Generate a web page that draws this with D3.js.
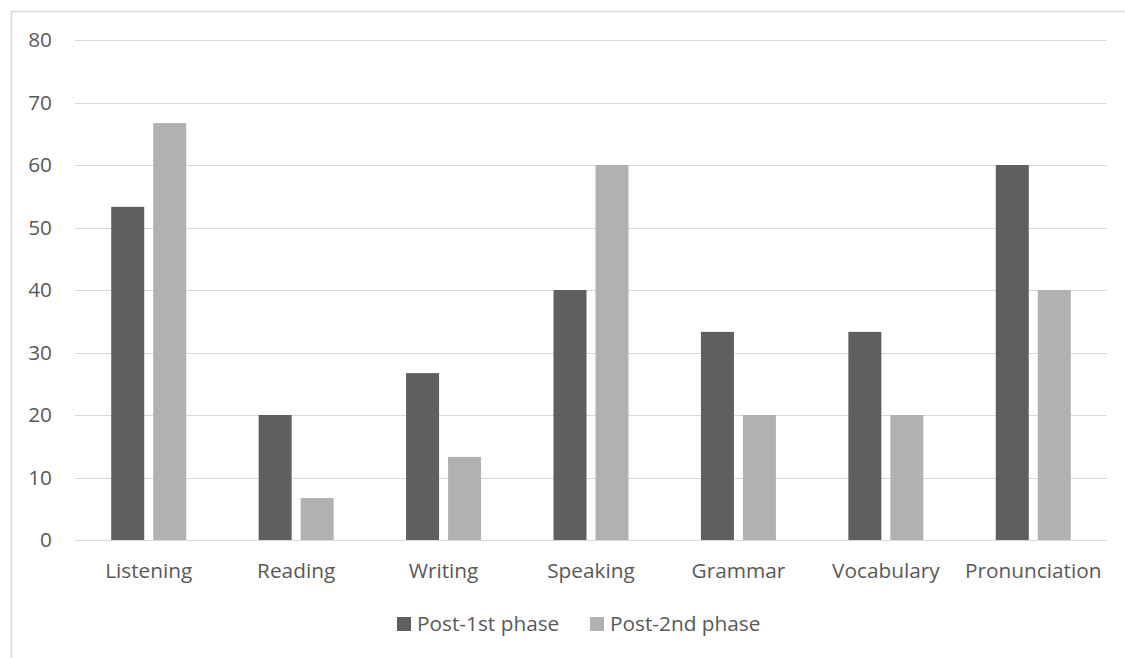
<!DOCTYPE html>
<html>
<head>
<meta charset="utf-8">
<script src="https://cdn.jsdelivr.net/npm/d3@7"></script>
<style>
  html, body { margin: 0; padding: 0; background: #fff; }
  svg { display: block; font-family: "Open Sans", "Noto Sans", sans-serif; }
</style>
</head>
<body>
<svg id="chart" width="1125" height="658"></svg>
<script>
// Skill categories and the two survey phases
const categories = ["Listening", "Reading", "Writing", "Speaking", "Grammar", "Vocabulary", "Pronunciation"];
const seriesNames = ["Post-1st phase", "Post-2nd phase"];
const post1st = [53.3, 20, 26.7, 40, 33.3, 33.3, 60];
const post2nd = [66.7, 6.7, 13.3, 60, 20, 20, 40];
const yTicks = [0, 10, 20, 30, 40, 50, 60, 70, 80];
const colors = ["#5f5f5f", "#b1b1b1"];

const svg = d3.select("#chart");
const W = 1125, H = 658;
const plot = { left: 75, right: 1107, top: 40, bottom: 540 };
const fontSize = 20.8;

// Outer chart frame
svg.append("rect")
  .attr("x", 11.5).attr("y", 11.5)
  .attr("width", W).attr("height", H)
  .attr("fill", "none").attr("stroke", "#d9d9d9").attr("stroke-width", 1.5);

const x = d3.scaleBand().domain(categories).range([plot.left, plot.right]);
const y = d3.scaleLinear().domain([0, 80]).range([plot.bottom, plot.top]);

// Horizontal gridlines
svg.append("g").selectAll("line").data(yTicks).join("line")
  .attr("x1", plot.left).attr("x2", plot.right)
  .attr("y1", d => Math.round(y(d)) + 0.5).attr("y2", d => Math.round(y(d)) + 0.5)
  .attr("stroke", "#d9d9d9").attr("stroke-width", 1);

// Y axis labels
const yAxis = d3.axisLeft(y).tickValues(yTicks).tickSize(0).tickPadding(0);
const yG = svg.append("g").attr("transform", `translate(52,0)`).call(yAxis);
yG.select(".domain").remove();
yG.selectAll("text")
  .attr("fill", "#595959").attr("font-size", fontSize)
  .attr("font-family", "'Open Sans', sans-serif");

// Bars
const barW = 33, gap = 9;
const data = categories.map((c, i) => ({ c, vals: [post1st[i], post2nd[i]] }));
const groups = svg.append("g").selectAll("g").data(data).join("g")
  .attr("transform", d => `translate(${x(d.c) + x.bandwidth() / 2},0)`);
groups.selectAll("rect").data(d => d.vals.map((v, k) => ({ v, k }))).join("rect")
  .attr("x", d => d.k === 0 ? -(barW + gap / 2) : gap / 2)
  .attr("width", barW)
  .attr("y", d => y(d.v))
  .attr("height", d => y(0) - y(d.v))
  .attr("fill", d => colors[d.k]);

// Baseline
svg.append("line")
  .attr("x1", plot.left).attr("x2", plot.right)
  .attr("y1", plot.bottom + 0.5).attr("y2", plot.bottom + 0.5)
  .attr("stroke", "#d9d9d9").attr("stroke-width", 1);

// X axis labels
const xAxis = d3.axisBottom(x).tickSize(0).tickPadding(0);
const xG = svg.append("g").attr("transform", `translate(0,${plot.bottom + 23})`).call(xAxis);
xG.select(".domain").remove();
xG.selectAll("text")
  .attr("fill", "#595959").attr("font-size", fontSize)
  .attr("font-family", "'Open Sans', sans-serif");

// Legend
const legendX = [397, 590];
const legend = svg.append("g").selectAll("g").data(seriesNames).join("g")
  .attr("transform", (d, i) => `translate(${legendX[i]},617)`);
legend.append("rect").attr("width", 14).attr("height", 14).attr("fill", (d, i) => colors[i]);
legend.append("text")
  .attr("x", 20).attr("y", 7).attr("dy", "0.35em")
  .attr("fill", "#595959").attr("font-size", fontSize)
  .text(d => d);
</script>
</body>
</html>
